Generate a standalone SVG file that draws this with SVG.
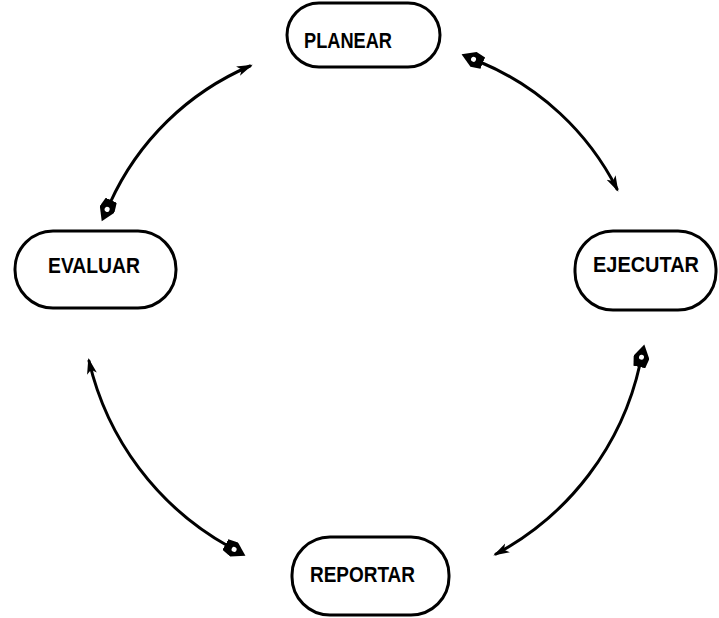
<svg xmlns="http://www.w3.org/2000/svg" width="719" height="618" viewBox="0 0 719 618">
<style>
.node{fill:#fff;stroke:#000;stroke-width:3}
.lbl{font-family:"Liberation Sans",Arial,sans-serif;font-weight:bold;font-size:22px;fill:#000}
.arc{fill:none;stroke:#000;stroke-width:3;stroke-linecap:round}
</style>
<defs>
<marker id="head" viewBox="0 0 16 12" refX="13" refY="6" markerWidth="16" markerHeight="12" orient="auto" markerUnits="userSpaceOnUse">
<path d="M0,1 L16,6 L0,11 L4,6 z" fill="#000"/>
</marker>
<marker id="tail" viewBox="0 0 24 16" refX="3" refY="8" markerWidth="24" markerHeight="16" orient="auto-start-reverse" markerUnits="userSpaceOnUse">
<path d="M0,2 L10,0 L23,8 L10,16 L0,14 z" fill="#000"/>
<circle cx="10" cy="8" r="2.5" fill="#fff"/>
</marker>
</defs>
<rect width="719" height="618" fill="#fff"/>
<g id="connectors">
<path class="arc" d="M480 62 A270 270 0 0 1 617 189" marker-start="url(#tail)" marker-end="url(#head)"/>
<path class="arc" d="M640 364 A285 285 0 0 1 496 554" marker-start="url(#tail)" marker-end="url(#head)"/>
<path class="arc" d="M228 546 A287 287 0 0 1 89 361" marker-start="url(#tail)" marker-end="url(#head)"/>
<path class="arc" d="M110 203 A270 270 0 0 1 250 66" marker-start="url(#tail)" marker-end="url(#head)"/>
</g>
<g id="planear">
<rect class="node" x="287" y="3" width="153" height="64" rx="32"/>
<text class="lbl" x="304" y="48" textLength="88" lengthAdjust="spacingAndGlyphs">PLANEAR</text>
</g>
<g id="ejecutar">
<rect class="node" x="575" y="231" width="141" height="79" rx="38"/>
<text class="lbl" x="593" y="272" textLength="106" lengthAdjust="spacingAndGlyphs">EJECUTAR</text>
</g>
<g id="reportar">
<rect class="node" x="292" y="537" width="157" height="78" rx="38"/>
<text class="lbl" x="310" y="582" font-size="23" textLength="105" lengthAdjust="spacingAndGlyphs">REPORTAR</text>
</g>
<g id="evaluar">
<rect class="node" x="15" y="231" width="161" height="77" rx="38"/>
<text class="lbl" x="48" y="273" textLength="92" lengthAdjust="spacingAndGlyphs">EVALUAR</text>
</g>
</svg>
